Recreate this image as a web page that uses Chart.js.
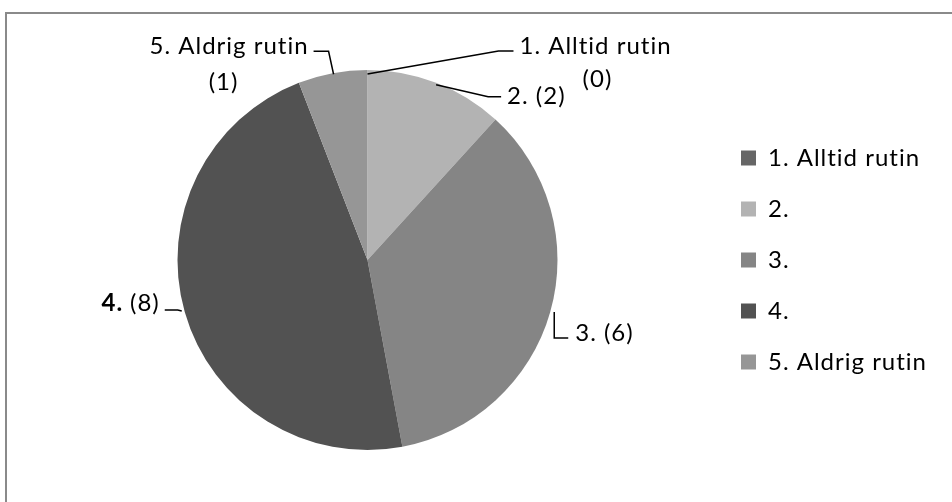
<!DOCTYPE html>
<html>
<head>
<meta charset="utf-8">
<script src="https://cdn.jsdelivr.net/npm/chart.js@4.4.0/dist/chart.umd.min.js"></script>
<style>
  html, body { margin: 0; padding: 0; background: #fff; }
  #wrap { position: relative; width: 952px; height: 502px; overflow: hidden; }
  #frame { position: absolute; left: 5px; top: 12px; width: 1000px; height: 600px;
           border-top: 2px solid #8a8a8a; border-left: 2px solid #8a8a8a; }
  #chart { position: absolute; left: 0; top: 0; }
</style>
</head>
<body>
<div id="wrap">
  <div id="frame"></div>
  <canvas id="chart" width="952" height="502"></canvas>
</div>
<script>
const categories = ['1. Alltid rutin', '2.', '3.', '4.', '5. Aldrig rutin'];
const counts = [0, 2, 6, 8, 1];
const sliceColors = ['#666666', '#b3b3b3', '#858585', '#525252', '#969696'];

const FONT = 'Lato, "Liberation Sans", sans-serif';
const FONT_SIZE = 24;

// leader lines and label spots, as offsets from the slice's outer edge at mid-angle
const labelLayout = [
    { path: [[0, 4], [131, -19], [146, -19]], lines: [{ dx: 152, dy: -24, align: 'left', kind: 'name' }, { dx: 230, dy: 9, align: 'center', kind: 'count' }] },
    { path: [[0, 2], [52, 14], [65, 14]], lines: [{ dx: 71, dy: 13, align: 'left', kind: 'both' }] },
    { path: [[4, 0], [4, 26], [18, 26]], lines: [{ dx: 25, dy: 21, align: 'left', kind: 'both' }] },
    { path: [[-3, -1], [-7, -2], [-20, -2]], lines: [{ dx: -25, dy: -9, align: 'right', kind: 'both', bold: true }] },
    { path: [[1, 1], [-4, -22], [-19, -22]], lines: [{ dx: -24, dy: -27, align: 'right', kind: 'name' }, { dx: -109, dy: 9, align: 'center', kind: 'count' }] }
];

// Excel export has loose letter spacing
const spacing = {
    id: 'spacing',
    beforeLayout(chart) { chart.ctx.letterSpacing = '1px'; },
    beforeDraw(chart) { chart.ctx.letterSpacing = '1px'; }
};

const leaderLabels = {
    id: 'leaderLabels',
    afterDatasetsDraw(chart) {
        const ctx = chart.ctx;
        const meta = chart.getDatasetMeta(0);
        ctx.save();
        ctx.fillStyle = '#000';
        ctx.strokeStyle = '#000';
        ctx.lineWidth = 1.5;
        ctx.textBaseline = 'middle';
        meta.data.forEach((arc, i) => {
            const p = arc.getProps(['x', 'y', 'startAngle', 'endAngle', 'outerRadius'], true);
            const mid = (p.startAngle + p.endAngle) / 2;
            const ax = p.x + Math.cos(mid) * p.outerRadius;
            const ay = p.y + Math.sin(mid) * p.outerRadius;
            const lay = labelLayout[i];
            ctx.beginPath();
            lay.path.forEach((pt, k) => {
                if (k === 0) ctx.moveTo(ax + pt[0], ay + pt[1]);
                else ctx.lineTo(ax + pt[0], ay + pt[1]);
            });
            ctx.stroke();
            lay.lines.forEach(l => {
                const x = ax + l.dx, y = ay + l.dy;
                const count = '(' + counts[i] + ')';
                if (l.kind === 'name') {
                    ctx.font = FONT_SIZE + 'px ' + FONT;
                    ctx.textAlign = l.align;
                    ctx.fillText(categories[i], x, y);
                } else if (l.kind === 'count') {
                    ctx.font = FONT_SIZE + 'px ' + FONT;
                    ctx.textAlign = l.align;
                    ctx.fillText(count, x, y);
                } else {
                    const head = categories[i] + ' ';
                    const headFont = (l.bold ? 'bold ' : '') + FONT_SIZE + 'px ' + FONT;
                    const tailFont = FONT_SIZE + 'px ' + FONT;
                    ctx.font = headFont;
                    const hw = ctx.measureText(head).width;
                    ctx.font = tailFont;
                    const tw = ctx.measureText(count).width;
                    let start = x;
                    if (l.align === 'right') start = x - hw - tw;
                    else if (l.align === 'center') start = x - (hw + tw) / 2;
                    ctx.textAlign = 'left';
                    ctx.font = headFont;
                    ctx.fillText(head, start, y);
                    ctx.font = tailFont;
                    ctx.fillText(count, start + hw, y);
                }
            });
        });
        ctx.restore();
    }
};

const ctx = document.getElementById('chart').getContext('2d');
new Chart(ctx, {
    type: 'pie',
    data: {
        labels: categories,
        datasets: [{
            data: counts,
            backgroundColor: sliceColors,
            borderWidth: 0
        }]
    },
    options: {
        responsive: false,
        animation: false,
        devicePixelRatio: 1,
        layout: { padding: { left: 21, top: 70, bottom: 52, right: 15 } },
        plugins: {
            legend: {
                position: 'right',
                labels: {
                    boxWidth: 15,
                    boxHeight: 15,
                    padding: 27,
                    color: '#000',
                    font: { family: FONT, size: FONT_SIZE }
                }
            },
            tooltip: { enabled: false }
        }
    },
    plugins: [spacing, leaderLabels]
});
</script>
</body>
</html>
